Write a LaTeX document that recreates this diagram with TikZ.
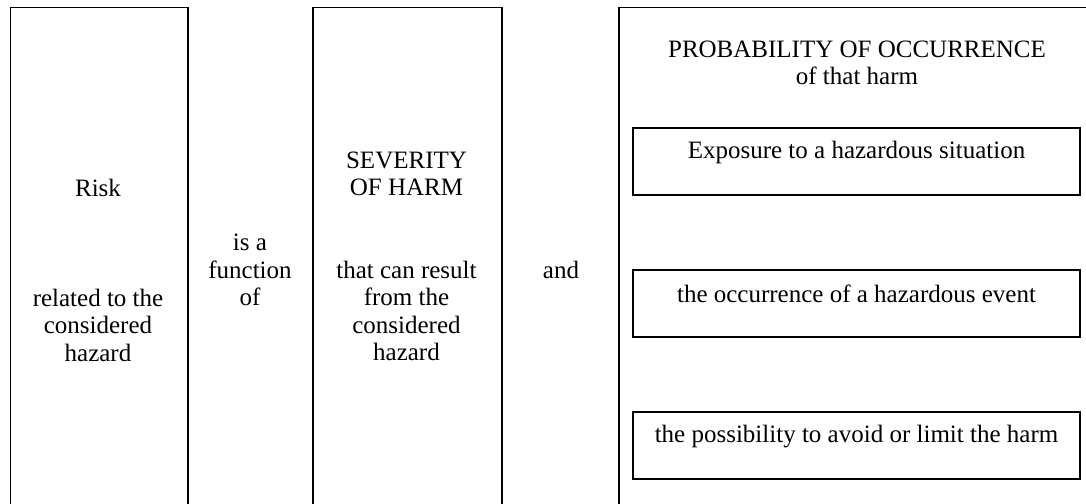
\documentclass[tikz,border=0pt]{standalone}
\usepackage{fontspec}
\setmainfont{Liberation Serif}
\begin{document}
\begin{tikzpicture}[x=1pt,y=-1pt,
  colbox/.style={draw, line width=1.5pt, anchor=north west, inner sep=0pt, minimum height=520pt},
  subbox/.style={draw, line width=1.2pt, minimum width=447pt, minimum height=67pt, inner sep=0pt},
  txt/.style={align=center, inner sep=0pt, font=\fontsize{25}{27.5}\selectfont}]
\useasboundingbox (0,0) rectangle (1086,503);
\clip (0,0) rectangle (1086,503);
% the three columns, cut off at the bottom
\node[colbox, minimum width=177.5pt] (riskcol) at (9.5,7) {};
\node[colbox, minimum width=189pt] (sevcol) at (312,7) {};
\node[colbox, minimum width=500pt] (probcol) at (618,7) {};
% texts
\node[txt] (risk) at (98,270) {Risk\\ \\ \\ \\related to the\\considered\\hazard};
\node[txt] (function) at (250,270) {is a\\function\\of};
\node[txt] (severity) at (406.5,256.5) {SEVERITY\\OF HARM\\ \\ \\that can result\\from the\\considered\\hazard};
\node[txt] (and) at (561,269.5) {and};
\node[txt] (prob) at (857,63) {PROBABILITY OF OCCURRENCE\\of that harm};
% the three parameters
\node[subbox] (exposure) at (856.5,161.5) {};
\node[subbox] (event) at (856.5,303.5) {};
\node[subbox] (avoid) at (856.5,445.5) {};
\node[txt] (exposuretxt) at (856.5,152) {Exposure to a hazardous situation};
\node[txt] (eventtxt) at (856.5,294) {the occurrence of a hazardous event};
\node[txt] (avoidtxt) at (856.5,437) {the possibility to avoid or limit the harm};
\end{tikzpicture}
\end{document}
